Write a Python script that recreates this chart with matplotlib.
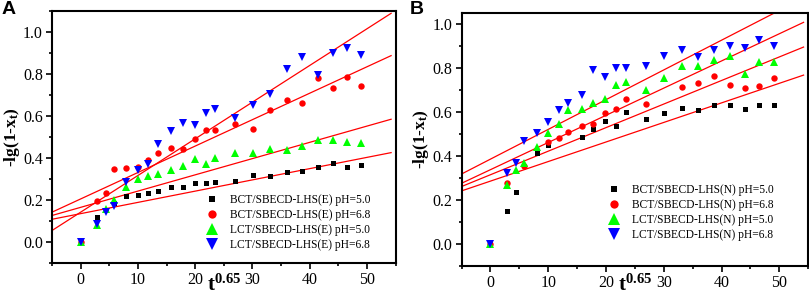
#Release kinetics: -lg(1-x_t) vs t^0.65 for the two hybrid systems

import numpy as np
import matplotlib
matplotlib.use('Agg')
import matplotlib.pyplot as plt
from matplotlib.ticker import MultipleLocator

plt.rcParams['font.family'] = ['Liberation Serif', 'DejaVu Serif']
plt.rcParams['mathtext.default'] = 'regular'

#x values (t^0.65)
t065 = [0, 2.8, 4.5, 5.8, 8.0, 10.0, 11.8, 13.5, 15.8, 17.8, 19.9, 21.8,
        23.5, 26.9, 30.1, 33.1, 36.0, 38.7, 41.4, 44.1, 46.5, 49.0]

#Panel A: SBECD-LHS(E)
bct_e_50 = [0, 0.117, 0.152, 0.185, 0.220, 0.224, 0.232, 0.244, 0.260, 0.263, 0.279,
            0.279, 0.284, 0.291, 0.318, 0.313, 0.331, 0.339, 0.356, 0.378, 0.357, 0.365]
bct_e_68 = [0, 0.195, 0.232, 0.348, 0.353, 0.357, 0.392, 0.422, 0.449, 0.443, 0.492,
            0.532, 0.534, 0.563, 0.540, 0.629, 0.676, 0.660, 0.782, 0.734, 0.785, 0.745]
lct_e_50 = [0, 0.082, 0.159, 0.200, 0.263, 0.298, 0.313, 0.326, 0.342, 0.362, 0.397,
            0.373, 0.402, 0.425, 0.425, 0.443, 0.440, 0.457, 0.487, 0.484, 0.474, 0.471]
lct_e_68 = [0, 0.084, 0.145, 0.172, 0.284, 0.345, 0.370, 0.465, 0.528, 0.566, 0.558,
            0.615, 0.635, 0.591, 0.652, 0.704, 0.823, 0.881, 0.796, 0.901, 0.922, 0.890]
#linear fits (intercept, slope)
fit_e_int = [0.135, 0.205, 0.165, 0.142]
fit_e_slope = [0.00536, 0.01259, 0.00774, 0.01747]

#Panel B: SBECD-LHS(N)
nan = np.nan
bct_n_50 = [0, 0.148, 0.233, nan, 0.413, 0.450, nan, nan, 0.486, 0.520, 0.557,
            0.536, 0.600, 0.567, 0.594, 0.618, 0.607, 0.629, 0.632, 0.610, 0.631, 0.632]
bct_n_68 = [0, 0.277, nan, 0.355, nan, 0.463, 0.481, 0.508, 0.535, 0.546, 0.592,
            0.614, 0.657, 0.635, nan, 0.710, 0.731, 0.761, 0.723, 0.708, 0.719, 0.753]
lct_n_50 = [0, 0.266, 0.334, 0.367, 0.437, 0.504, 0.542, 0.607, 0.614, 0.641, 0.657,
            0.723, 0.735, 0.697, 0.755, 0.809, 0.809, 0.833, 0.852, 0.770, 0.824, 0.824]
lct_n_68 = [0, 0.319, 0.365, 0.466, 0.504, 0.554, 0.607, 0.640, 0.678, 0.791, 0.758,
            0.799, 0.799, 0.806, 0.852, 0.879, 0.849, 0.879, 0.897, 0.888, 0.924, 0.900]
fit_n_int = [0.284, 0.313, 0.336, 0.384]
fit_n_slope = [0.0089, 0.01072, 0.01237, 0.01353]

styles = [('s', 'black', 3.6), ('o', 'red', 4.6), ('^', '#00ff00', 6.2), ('v', 'blue', 6.2)]

fig = plt.figure(figsize=(8.09, 2.97), dpi=100)
axA = fig.add_axes([0.0643, 0.1145, 0.4248, 0.8485])
axB = fig.add_axes([0.5705, 0.1060, 0.4285, 0.8510])

def draw_panel(ax, series, labels, fit_int, fit_slope, ylim, leg_anchor):
    x = np.array(t065)
    for (m, c, ms), y, lab in zip(styles, series, labels):
        ax.plot(x, y, linestyle='none', marker=m, color=c, markersize=ms,
                markeredgewidth=0, label=lab)
    xf = np.array([-5, 54.2])
    for b, k in zip(fit_int, fit_slope):
        ax.plot(xf, b + k * xf, color='red', lw=0.9, zorder=1)
    ax.set_xlim(-5, 55)
    ax.set_ylim(*ylim)
    ax.xaxis.set_major_locator(MultipleLocator(10))
    ax.xaxis.set_minor_locator(MultipleLocator(5))
    ax.yaxis.set_major_locator(MultipleLocator(0.2))
    ax.yaxis.set_minor_locator(MultipleLocator(0.1))
    ax.tick_params(which='both', direction='out', width=1.2, labelsize=11.5,
                   top=False, right=False, pad=2)
    ax.tick_params(which='major', length=4.5)
    ax.tick_params(which='minor', length=2.5)
    for s in ax.spines.values():
        s.set_linewidth(1.5)
    ax.set_xlabel('t$^{0.65}$', fontsize=15, fontweight='bold', va='bottom')
    # sit the x label right at the bottom edge of the figure
    bottom = -ax.get_position().y0 / ax.get_position().height
    ax.xaxis.set_label_coords(0.5, bottom + 0.005)
    ax.set_ylabel('-lg(1-x$_t$)', fontsize=12.5, fontweight='bold', labelpad=1)
    ax.legend(loc='lower right', bbox_to_anchor=leg_anchor, borderaxespad=0,
              frameon=False, fontsize=8.3, markerscale=1.3,
              handletextpad=0.6, labelspacing=0.25)

draw_panel(axA, [bct_e_50, bct_e_68, lct_e_50, lct_e_68],
           ['BCT/SBECD-LHS(E) pH=5.0', 'BCT/SBECD-LHS(E) pH=6.8',
            'LCT/SBECD-LHS(E) pH=5.0', 'LCT/SBECD-LHS(E) pH=6.8'],
           fit_e_int, fit_e_slope, (-0.1, 1.1), (0.94, 0.03))
draw_panel(axB, [bct_n_50, bct_n_68, lct_n_50, lct_n_68],
           ['BCT/SBECD-LHS(N) pH=5.0', 'BCT/SBECD-LHS(N) pH=6.8',
            'LCT/SBECD-LHS(N) pH=5.0', 'LCT/SBECD-LHS(N) pH=6.8'],
           fit_n_int, fit_n_slope, (-0.1, 1.05), (0.915, 0.08))

#panel letters
fig.text(0.002, 0.995, 'A', fontsize=14, fontweight='bold', family='Liberation Sans', va='top')
fig.text(0.506, 0.995, 'B', fontsize=14, fontweight='bold', family='Liberation Sans', va='top')

fig.savefig('out.png', dpi=100)
